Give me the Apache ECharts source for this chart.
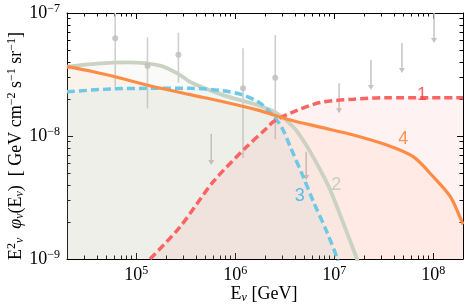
<!DOCTYPE html>
<html><head><meta charset="utf-8">
<script src="https://cdn.jsdelivr.net/npm/echarts@6/dist/echarts.min.js"></script>
<style>html,body{margin:0;padding:0;background:#fff}#c{width:464px;height:307px}</style>
</head><body><div id="c"></div>
<script>
// ---- values (E in GeV, flux in GeV cm^-2 s^-1 sr^-1) ----
const c1E = [1.38e5, 2.78e5, 6.0e5, 1.31e6, 2.09e6, 2.44e6, 3.7e6, 7.2e6, 1.56e7, 3.4e7, 2.0e8];
const c1F = [1.0e-9, 1.83e-9, 4.25e-9, 8.2e-9, 1.16e-8, 1.31e-8, 1.55e-8, 1.87e-8, 1.99e-8, 2.05e-8, 2.05e-8];

const c2E = [2.0e4, 4.04e4, 8.05e4, 1.75e5, 2.78e5, 3.51e5, 7.57e5, 1.66e6, 2.64e6, 3.85e6, 5.21e6, 7.23e6, 9.12e6, 1.69e7, 1.75e7];
const c2F = [3.66e-8, 3.88e-8, 3.97e-8, 3.73e-8, 3.13e-8, 2.75e-8, 2.15e-8, 1.79e-8, 1.53e-8, 1.19e-8, 8.45e-9, 5.30e-9, 3.64e-9, 1.01e-9, 9.0e-10];

const c3E = [2.0e4, 5.46e4, 1.28e5, 3.51e5, 7.57e5, 1.21e6, 1.79e6, 2.42e6, 2.96e6, 3.60e6, 4.86e6, 6.14e6, 8.43e6, 1.07e7, 1.1e7];
const c3F = [2.29e-8, 2.41e-8, 2.44e-8, 2.44e-8, 2.33e-8, 2.15e-8, 1.85e-8, 1.46e-8, 1.17e-8, 8.18e-9, 4.67e-9, 2.95e-9, 1.66e-9, 1.02e-9, 9.0e-10];

const c4E = [2.0e4, 3.68e4, 6.14e4, 1.28e5, 3.51e5, 7.57e5, 1.66e6, 3.60e6, 7.23e6, 1.56e7, 3.40e7, 6.28e7, 1.0e8, 1.49e8, 1.95e8, 2.0e8];
const c4F = [3.66e-8, 3.33e-8, 3.03e-8, 2.60e-8, 2.17e-8, 1.90e-8, 1.63e-8, 1.35e-8, 1.18e-8, 1.02e-8, 8.45e-9, 6.79e-9, 4.67e-9, 3.21e-9, 2.01e-9, 1.91e-9];

// measured points with error bars
const ptE  = [6.14e4, 1.30e5, 2.67e5, 1.20e6, 2.54e6];
const ptF  = [6.22e-8, 3.71e-8, 4.58e-8, 2.44e-8, 2.98e-8];
const ptLo = [2.52e-8, 1.68e-8, 2.71e-8, 6.62e-9, 9.40e-9];
const ptHi = [1.2e-7, 6.34e-8, 6.92e-8, 5.16e-8, 6.62e-8];

// upper limits (bar top, arrow tip)
const ulE   = [5.73e5, 5.21e6, 1.12e7, 2.35e7, 4.83e7, 1.02e8];
const ulTop = [1.04e-8, 7.45e-9, 2.68e-8, 4.15e-8, 5.70e-8, 1.0e-7];
const ulTip = [5.81e-9, 4.39e-9, 1.53e-8, 2.37e-8, 3.25e-8, 5.70e-8];

// curve labels
const labText = ['1', '2', '3', '4'];
const labE = [7.69e7, 1.05e7, 4.5e6, 4.98e7];
const labF = [2.15e-8, 4.0e-9, 3.25e-9, 9.46e-9];
const labColor = ['#ff3b3b', '#b8c6b8', '#35b0e4', '#ff7a26'];

// axes
const xRange = [2e4, 2e8];
const yRange = [1e-9, 1e-7];
const xTickExp = [5, 6, 7, 8];
const yTickExp = [-9, -8, -7];

// ---- build ----
const L = Math.log10;
const xMin = L(xRange[0]), xMax = L(xRange[1]);
const yMin = L(yRange[0]), yMax = L(yRange[1]);
function minors(lo, hi) {
  const out = [];
  for (let d = Math.floor(lo) - 1; d <= Math.ceil(hi); d++)
    for (let k = 2; k <= 9; k++) {
      const v = d + L(k);
      if (v >= lo - 1e-9 && v <= hi + 1e-9) out.push(v);
    }
  return out;
}
const xMinor = minors(xMin, xMax), yMinor = minors(yMin, yMax);
const pair = (E, F) => E.map((e, i) => [L(e), L(F[i])]);

const serif = 'Liberation Serif';
const richLab = {
  b: { fontSize: 18, fontFamily: serif, color: '#000', lineHeight: 20 },
  s: { fontSize: 12, fontFamily: serif, color: '#000', lineHeight: 12, verticalAlign: 'top' }
};
function axisX(pos, major) {
  return {
    type: 'value', position: pos, min: xMin, max: xMax, gridIndex: 0,
    axisLine: { show: major, onZero: false, lineStyle: { color: '#000', width: 1 } },
    axisTick: { show: true, inside: true, length: major ? 6 : 3.5, customValues: major ? xTickExp : xMinor,
      lineStyle: { color: '#000', width: 1 } },
    axisLabel: { show: major && pos === 'bottom', customValues: xTickExp, margin: 6,
      formatter: v => '{b|10}{s|' + Math.round(v) + '}', rich: richLab },
    splitLine: { show: false }
  };
}
function axisY(pos, major) {
  return {
    type: 'value', position: pos, min: yMin, max: yMax, gridIndex: 0,
    axisLine: { show: major, onZero: false, lineStyle: { color: '#000', width: 1 } },
    axisTick: { show: true, inside: true, length: major ? 6 : 3.5, customValues: major ? yTickExp : yMinor,
      lineStyle: { color: '#000', width: 1 } },
    axisLabel: { show: major && pos === 'left', customValues: yTickExp, margin: 7,
      formatter: v => '{b|10}{s|\u2212' + Math.abs(Math.round(v)) + '}', rich: richLab },
    splitLine: { show: false }
  };
}

function fill(E, F, color) {
  return { type: 'line', data: pair(E, F), showSymbol: false, symbol: 'none', smooth: 0.3, z: 2,
    lineStyle: { width: 0, opacity: 0 }, areaStyle: { origin: 'start', color }, clip: true, silent: true };
}
function curve(name, E, F, color, width, dashed, z) {
  return { type: 'line', name, data: pair(E, F), showSymbol: false, symbol: 'none', smooth: 0.3, z,
    lineStyle: { color, width, type: dashed ? [8, 4] : 'solid', cap: 'butt' }, clip: true };
}

const chart = echarts.init(document.getElementById('c'), null, { renderer: 'canvas' });
chart.setOption({
  animation: false,
  backgroundColor: '#fff',
  grid: { left: 67, right: 1, top: 13, bottom: 48, outerBoundsMode: 'none', containLabel: false },
  xAxis: [axisX('bottom', true), axisX('bottom', false), axisX('top', true), axisX('top', false)],
  yAxis: [axisY('left', true), axisY('left', false), axisY('right', true), axisY('right', false)],
  graphic: [
    { type: 'text', x: 264, y: 294, z: 10,
      style: { text: '{m|E}{sub|\u03bd}{m| [GeV]}', align: 'center', verticalAlign: 'middle',
        rich: { m: { fontSize: 18, fontFamily: serif, fill: '#000', lineHeight: 20 },
                sub: { fontSize: 12, fontFamily: serif, fontStyle: 'italic', fill: '#000', lineHeight: 10, verticalAlign: 'bottom' } } } },
    { type: 'text', x: 16, y: 146, rotation: Math.PI / 2, z: 10,
      style: { text: '{m|E}{sup|2}{sub|\u03bd}{m|  }{it|\u03c6}{sub|\u03bd}{m|(E}{sub|\u03bd}{m|)  [ GeV cm}{sup|\u22122}{m| s}{sup|\u22121}{m| sr}{sup|\u22121}{m|]}',
        align: 'center', verticalAlign: 'middle',
        rich: { m: { fontSize: 18, fontFamily: serif, fill: '#000', lineHeight: 20 },
                it: { fontSize: 18, fontFamily: serif, fontStyle: 'italic', fill: '#000', lineHeight: 20 },
                sup: { fontSize: 12, fontFamily: serif, fill: '#000', lineHeight: 12, verticalAlign: 'top' },
                sub: { fontSize: 12, fontFamily: serif, fontStyle: 'italic', fill: '#000', lineHeight: 10, verticalAlign: 'bottom' } } } }
  ],
  series: [
    // error bars
    { type: 'custom', z: 1, clip: true,
      data: ptE.map((e, i) => [L(e), L(ptLo[i]), L(ptHi[i])]),
      renderItem: (p, api) => {
        const a = api.coord([api.value(0), api.value(1)]), b = api.coord([api.value(0), api.value(2)]);
        return { type: 'line', shape: { x1: a[0], y1: a[1], x2: b[0], y2: b[1] }, style: { stroke: '#cfcfcf', lineWidth: 1.6 } };
      } },
    // upper limits
    { type: 'custom', z: 1, clip: true,
      data: ulE.map((e, i) => [L(e), L(ulTop[i]), L(ulTip[i])]),
      renderItem: (p, api) => {
        const a = api.coord([api.value(0), api.value(1)]), b = api.coord([api.value(0), api.value(2)]);
        return { type: 'group', children: [
          { type: 'line', shape: { x1: a[0], y1: a[1], x2: b[0], y2: b[1] - 3 }, style: { stroke: '#c4c4c4', lineWidth: 1.5 } },
          { type: 'polygon', shape: { points: [[b[0] - 3, b[1] - 5], [b[0] + 3, b[1] - 5], [b[0], b[1]]] }, style: { fill: '#c4c4c4' } }
        ] };
      } },
    // fills under each curve
    fill(c2E, c2F, 'rgba(200,205,191,0.12)'),
    fill(c3E, c3F, 'rgba(91,192,222,0.10)'),
    fill(c1E, c1F, 'rgba(255,95,95,0.11)'),
    fill(c4E, c4F, 'rgba(255,140,66,0.10)'),
    // curves
    curve('2', c2E, c2F, '#cad2c4', 3.8, false, 3),
    curve('3', c3E, c3F, '#6ec8e6', 3.5, true, 4),
    curve('1', c1E, c1F, '#fa6464', 3.5, true, 5),
    curve('4', c4E, c4F, '#ff8c45', 3.2, false, 6),
    // data points
    { type: 'scatter', z: 7, data: pair(ptE, ptF), symbolSize: 6, itemStyle: { color: '#bdbdbd' } },
    // curve labels
    { type: 'scatter', z: 8, symbolSize: 0, silent: true,
      data: labE.map((e, i) => ({ value: [L(e), L(labF[i])],
        label: { show: true, position: 'inside', formatter: labText[i], color: labColor[i],
          fontSize: 18, fontFamily: 'Liberation Sans' } })) }
  ]
});
</script></body></html>
